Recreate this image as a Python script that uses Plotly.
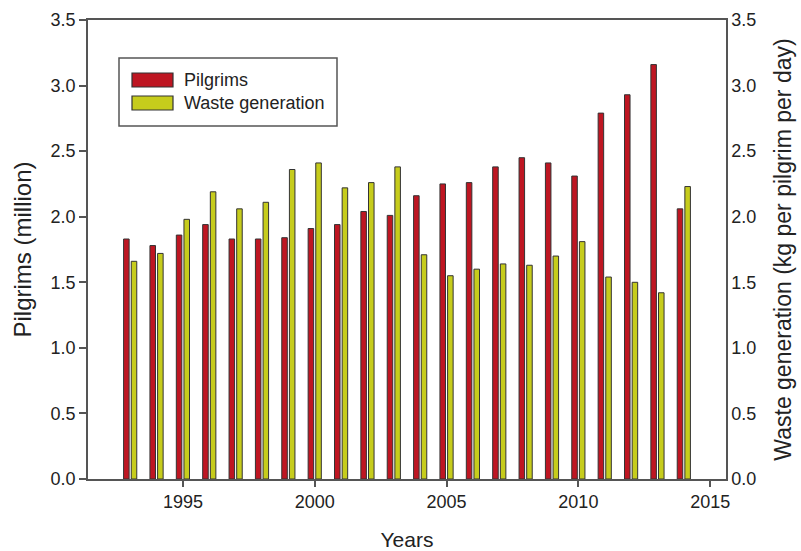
import plotly.graph_objects as go

years = list(range(1993, 2015))
pilgrims = [1.83, 1.78, 1.86, 1.94, 1.83, 1.83, 1.84, 1.91, 1.94, 2.04, 2.01,
            2.16, 2.25, 2.26, 2.38, 2.45, 2.41, 2.31, 2.79, 2.93, 3.16, 2.06]
waste = [1.66, 1.72, 1.98, 2.19, 2.06, 2.11, 2.36, 2.41, 2.22, 2.26, 2.38,
         1.71, 1.55, 1.60, 1.64, 1.63, 1.70, 1.81, 1.54, 1.50, 1.42, 2.23]
x_ticks = [1995, 2000, 2005, 2010, 2015]
y_ticks = [0.0, 0.5, 1.0, 1.5, 2.0, 2.5, 3.0, 3.5]
series_names = ["Pilgrims", "Waste generation"]

RED = "#BE1622"
YEL = "#C6CC1C"
EDGE = "#333333"
AX = "#555555"
TXT = "#222222"
FONT = "Arial, Liberation Sans, sans-serif"

# plot area in pixels
L, R, T, B = 88, 726, 20, 479
W, H = 801, 551


def px_x(p):
    return (p - L) / (R - L)


def px_y(p):
    return (B - p) / (B - T)


fig = go.Figure()
fig.add_trace(go.Bar(x=years, y=pilgrims, name=series_names[0], width=0.21, offset=-0.25,
                     marker=dict(color=RED, line=dict(color=EDGE, width=1)),
                     yaxis="y", showlegend=False))
fig.add_trace(go.Bar(x=years, y=waste, name=series_names[1], width=0.21, offset=0.04,
                     marker=dict(color=YEL, line=dict(color=EDGE, width=1)),
                     yaxis="y2", showlegend=False))

# legend drawn as shapes + text
shapes = [dict(type="rect", xref="paper", yref="paper",
               x0=px_x(119), x1=px_x(337), y0=px_y(126), y1=px_y(58),
               line=dict(color=AX, width=1.5), fillcolor="white", layer="above")]
annotations = []
for i, (name, col) in enumerate(zip(series_names, [RED, YEL])):
    cy = 80 + 23 * i
    shapes.append(dict(type="rect", xref="paper", yref="paper",
                       x0=px_x(132), x1=px_x(173), y0=px_y(cy + 7), y1=px_y(cy - 7),
                       line=dict(color=EDGE, width=1.2), fillcolor=col, layer="above"))
    annotations.append(dict(xref="paper", yref="paper", x=px_x(182), y=px_y(cy),
                            xanchor="left", yanchor="middle", text=name, showarrow=False,
                            font=dict(size=18, color=TXT, family=FONT)))

fig.update_layout(
    width=W, height=H,
    margin=dict(l=L, r=W - R, t=T, b=H - B),
    paper_bgcolor="white", plot_bgcolor="white",
    font=dict(family=FONT, size=18, color=TXT),
    barmode="overlay",
    showlegend=False,
    shapes=shapes,
    annotations=annotations,
    xaxis=dict(range=[1991.4, 2015.6], tickvals=x_ticks, ticks="outside", ticklen=6,
               tickcolor=AX, tickwidth=1.5, showline=True, linecolor=AX, linewidth=1.5,
               mirror=True, showgrid=False, zeroline=False, automargin=False,
               tickfont=dict(size=18, color=TXT),
               title=dict(text="Years", font=dict(size=21, color=TXT), standoff=26)),
    yaxis=dict(range=[0, 3.5], tickvals=y_ticks, ticktext=[f"{v:.1f}" for v in y_ticks],
               ticks="outside", ticklen=7, tickcolor=AX, tickwidth=1.5, automargin=False,
               showline=True, linecolor=AX, linewidth=1.5, showgrid=False, zeroline=False,
               tickfont=dict(size=18, color=TXT),
               title=dict(text="Pilgrims (million)", font=dict(size=24, color=TXT), standoff=12)),
    yaxis2=dict(range=[0, 3.5], tickvals=y_ticks, ticktext=[f"{v:.1f}" for v in y_ticks],
                overlaying="y", side="right", ticks="", showline=True, linecolor=AX,
                linewidth=1.5, showgrid=False, zeroline=False, automargin=False,
                tickfont=dict(size=18, color=TXT),
                title=dict(text="Waste generation (kg per pilgrim per day)",
                           font=dict(size=23, color=TXT), standoff=20)),
)

fig.write_html("out.html", config={"displayModeBar": False},
               post_script="document.body.style.margin='0';document.body.style.overflow='hidden';")
